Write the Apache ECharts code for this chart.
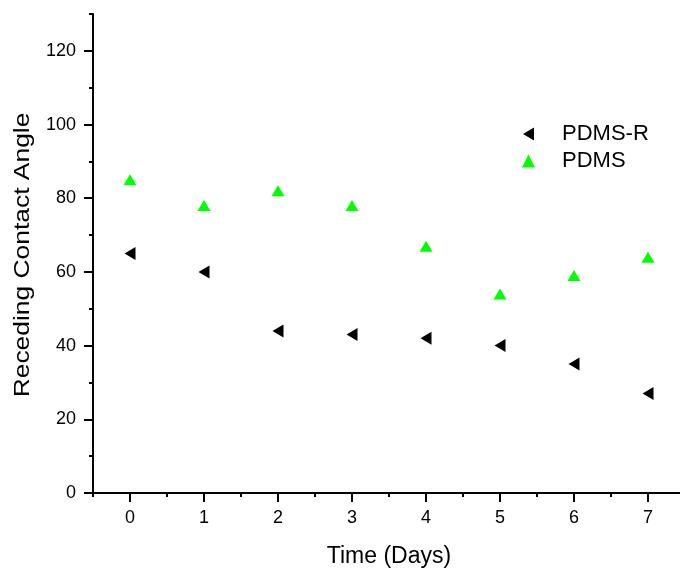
<!DOCTYPE html>
<html><head><meta charset="utf-8">
<script src="https://cdn.jsdelivr.net/npm/echarts@6/dist/echarts.min.js"></script>
<style>html,body{margin:0;padding:0;background:#fff}#c{width:680px;height:568px}</style>
</head><body><div id="c"></div>
<script>
const days = [0, 1, 2, 3, 4, 5, 6, 7];
const pdmsR = [65, 60, 44, 43, 42, 40, 35, 27];
const pdms = [85, 78, 82, 78, 67, 54, 59, 64];
const xMajorTicks = [0, 1, 2, 3, 4, 5, 6, 7];
const xMinorTicks = [-0.5, 0.5, 1.5, 2.5, 3.5, 4.5, 5.5, 6.5, 7.5];
const yMajorTicks = [0, 20, 40, 60, 80, 100, 120];
const yMinorTicks = [10, 30, 50, 70, 90, 110, 130];
const xTitle = 'Time (Days)';
const yTitle = 'Receding Contact Angle';

const font = 'Liberation Sans, Arial, sans-serif';
const leftTri = 'path://M0,6.5 L11,0 L11,13 Z';
const chart = echarts.init(document.getElementById('c'), null, {renderer: 'canvas'});
const lineStyle = {color: '#000', width: 2};
chart.setOption({
  animation: false,
  backgroundColor: '#fff',
  grid: {left: 93, top: 14, right: -5, bottom: 75, containLabel: false, outerBoundsMode: 'none'},
  legend: {
    orient: 'vertical', left: 517, top: 118, itemGap: 5,
    itemWidth: 13, itemHeight: 13,
    textStyle: {fontFamily: font, fontSize: 22, lineHeight: 22, color: '#000', padding: [0, 0, 0, 22]},
    data: [{name: 'PDMS-R', icon: leftTri}, {name: 'PDMS', icon: 'triangle'}]
  },
  graphic: [{
    type: 'text', x: 23, y: 255, rotation: Math.PI / 2, scaleX: 1.2, scaleY: 1,
    style: {text: yTitle, fontFamily: font, fontSize: 22, fill: '#000', align: 'center', verticalAlign: 'middle'}
  }],
  xAxis: [{
    type: 'value', min: -0.5, max: 7.5,
    name: xTitle, nameLocation: 'middle', nameGap: 52,
    nameTextStyle: {fontFamily: font, fontSize: 23, color: '#000'},
    axisLine: {show: true, onZero: false, lineStyle: lineStyle},
    axisTick: {show: true, inside: false, length: 9, lineStyle: lineStyle, customValues: xMajorTicks},
    axisLabel: {show: true, margin: 16, fontFamily: font, fontSize: 18, color: '#000', customValues: xMajorTicks},
    splitLine: {show: false}
  }, {
    type: 'value', min: -0.5, max: 7.5, position: 'bottom',
    axisLine: {show: false, onZero: false},
    axisTick: {show: true, inside: false, length: 4, lineStyle: lineStyle, customValues: xMinorTicks},
    axisLabel: {show: false, customValues: xMinorTicks},
    splitLine: {show: false}
  }],
  yAxis: [{
    type: 'value', min: 0, max: 130,
    axisLine: {show: true, onZero: false, lineStyle: lineStyle},
    axisTick: {show: true, inside: false, length: 9, lineStyle: lineStyle, customValues: yMajorTicks},
    axisLabel: {show: true, margin: 17, fontFamily: font, fontSize: 18, color: '#000', customValues: yMajorTicks},
    splitLine: {show: false}
  }, {
    type: 'value', min: 0, max: 130, position: 'left',
    axisLine: {show: false, onZero: false},
    axisTick: {show: true, inside: false, length: 4, lineStyle: lineStyle, customValues: yMinorTicks},
    axisLabel: {show: false, customValues: yMinorTicks},
    splitLine: {show: false}
  }],
  series: [{
    name: 'PDMS-R', type: 'scatter', xAxisIndex: 0, yAxisIndex: 0,
    symbol: leftTri, symbolSize: [11, 13],
    itemStyle: {color: '#000', opacity: 1},
    data: days.map((d, i) => [d, pdmsR[i]])
  }, {
    name: 'PDMS', type: 'scatter', xAxisIndex: 0, yAxisIndex: 0,
    symbol: 'triangle', symbolSize: [13, 11],
    itemStyle: {color: '#00ff00', opacity: 1},
    data: days.map((d, i) => [d, pdms[i]])
  }]
});
</script></body></html>
